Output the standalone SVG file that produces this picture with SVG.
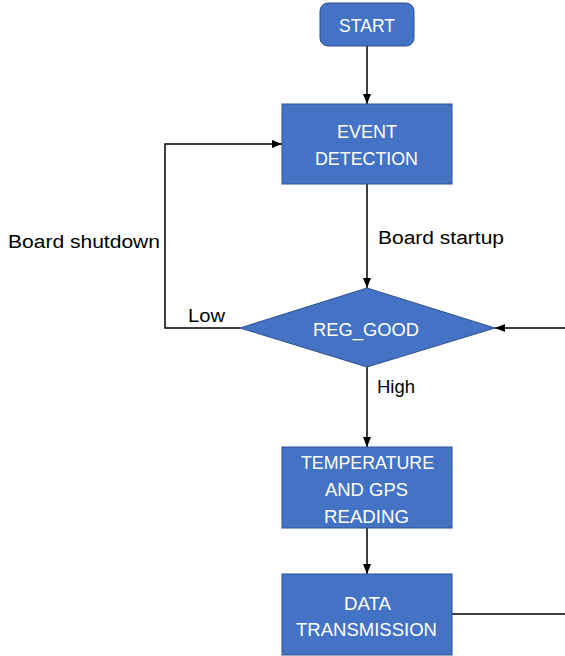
<svg xmlns="http://www.w3.org/2000/svg" width="565" height="656" viewBox="0 0 565 656">
<style>
.box{fill:#4472C4;stroke:#2F528F;stroke-width:1}
.nt{font-family:"Liberation Sans",Arial,sans-serif;font-size:19px;fill:#ffffff;text-anchor:start}
.lb{font-family:"Liberation Sans",Arial,sans-serif;font-size:18px;fill:#000000}
.cn{fill:none;stroke:#000000;stroke-width:1.5}
</style>
<defs>
<marker id="ah" markerUnits="userSpaceOnUse" markerWidth="10" markerHeight="10" viewBox="0 0 10 10" refX="10" refY="5" orient="auto">
<path d="M0,1 L10,5 L0,9 Z" fill="#000"/>
</marker>
</defs>
<g id="connectors">
<line class="cn" x1="367" y1="46" x2="367" y2="104" marker-end="url(#ah)"/>
<line class="cn" x1="367" y1="184" x2="367" y2="288" marker-end="url(#ah)"/>
<polyline class="cn" points="240,328 165,328 165,144 282,144" marker-end="url(#ah)"/>
<line class="cn" x1="565" y1="328" x2="495" y2="328" marker-end="url(#ah)"/>
<line class="cn" x1="367" y1="367" x2="367" y2="447" marker-end="url(#ah)"/>
<line class="cn" x1="367" y1="528" x2="367" y2="574" marker-end="url(#ah)"/>
<line class="cn" x1="452" y1="614" x2="565" y2="614"/>
<text class="lb" x="8" y="248" textLength="152" lengthAdjust="spacingAndGlyphs">Board shutdown</text>
<text class="lb" x="378" y="244" textLength="126" lengthAdjust="spacingAndGlyphs">Board startup</text>
<text class="lb" x="188" y="322" textLength="37" lengthAdjust="spacingAndGlyphs">Low</text>
<text class="lb" x="377" y="393" textLength="38" lengthAdjust="spacingAndGlyphs">High</text>
</g>
<g id="start">
<rect class="box" x="320" y="3" width="94" height="43" rx="8"/>
<text class="nt" x="339" y="32" textLength="56" lengthAdjust="spacingAndGlyphs">START</text>
</g>
<g id="event">
<rect class="box" x="282" y="104" width="170" height="80"/>
<text class="nt" x="337" y="138" textLength="60" lengthAdjust="spacingAndGlyphs">EVENT</text>
<text class="nt" x="315" y="165" textLength="103" lengthAdjust="spacingAndGlyphs">DETECTION</text>
</g>
<g id="reg">
<polygon class="box" points="367,288 495,328 367,367 240,328"/>
<text class="nt" x="313" y="336" textLength="106" lengthAdjust="spacingAndGlyphs">REG_GOOD</text>
</g>
<g id="temp">
<rect class="box" x="282" y="447" width="170" height="81"/>
<text class="nt" x="301" y="469" textLength="133" lengthAdjust="spacingAndGlyphs">TEMPERATURE</text>
<text class="nt" x="325" y="496" textLength="83" lengthAdjust="spacingAndGlyphs">AND GPS</text>
<text class="nt" x="324" y="523" textLength="85" lengthAdjust="spacingAndGlyphs">READING</text>
</g>
<g id="data">
<rect class="box" x="282" y="574" width="170" height="81"/>
<text class="nt" x="344" y="610" textLength="47" lengthAdjust="spacingAndGlyphs">DATA</text>
<text class="nt" x="296" y="636" textLength="141" lengthAdjust="spacingAndGlyphs">TRANSMISSION</text>
</g>
</svg>
